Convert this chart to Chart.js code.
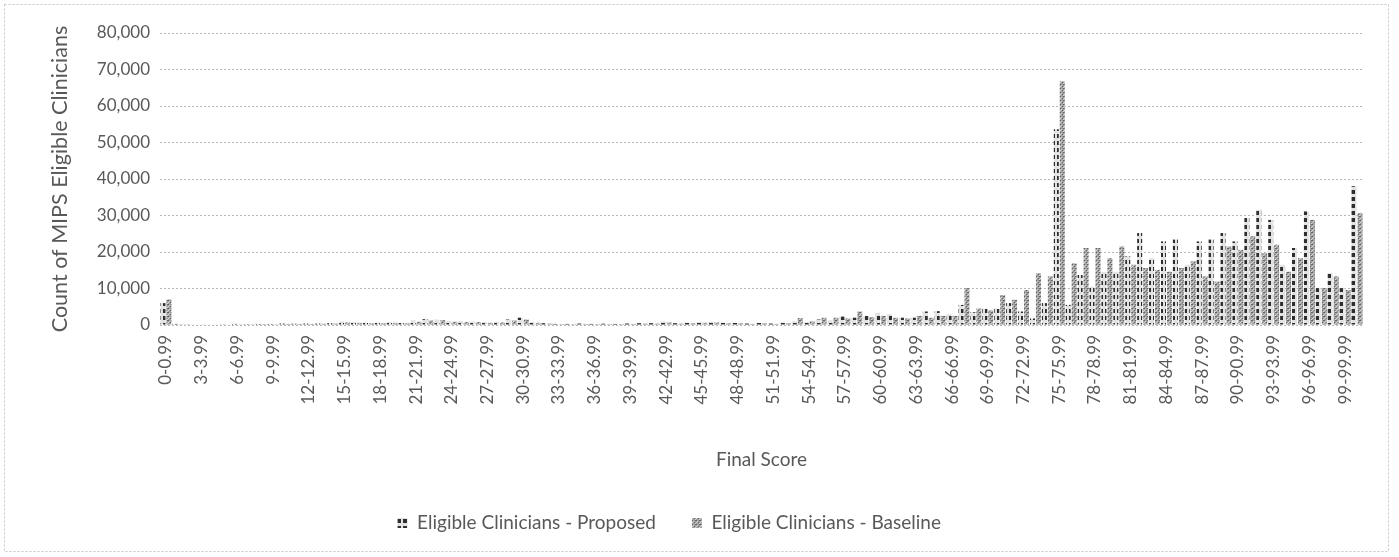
<!DOCTYPE html>
<html>
<head>
<meta charset="utf-8">
<script src="https://cdn.jsdelivr.net/npm/chart.js@4/dist/chart.umd.min.js"></script>
<style>
  html, body { margin: 0; padding: 0; background: #fff; }
</style>
</head>
<body>
<canvas id="scores" width="1399" height="557"></canvas>
<script>
// final score bins (101 of them, only every third gets a tick label)
const scoreBins = [
  "0-0.99","1-1.99","2-2.99","3-3.99","4-4.99","5-5.99","6-6.99","7-7.99","8-8.99","9-9.99",
  "10-10.99","11-11.99","12-12.99","13-13.99","14-14.99","15-15.99","16-16.99","17-17.99","18-18.99","19-19.99",
  "20-20.99","21-21.99","22-22.99","23-23.99","24-24.99","25-25.99","26-26.99","27-27.99","28-28.99","29-29.99",
  "30-30.99","31-31.99","32-32.99","33-33.99","34-34.99","35-35.99","36-36.99","37-37.99","38-38.99","39-39.99",
  "40-40.99","41-41.99","42-42.99","43-43.99","44-44.99","45-45.99","46-46.99","47-47.99","48-48.99","49-49.99",
  "50-50.99","51-51.99","52-52.99","53-53.99","54-54.99","55-55.99","56-56.99","57-57.99","58-58.99","59-59.99",
  "60-60.99","61-61.99","62-62.99","63-63.99","64-64.99","65-65.99","66-66.99","67-67.99","68-68.99","69-69.99",
  "70-70.99","71-71.99","72-72.99","73-73.99","74-74.99","75-75.99","76-76.99","77-77.99","78-78.99","79-79.99",
  "80-80.99","81-81.99","82-82.99","83-83.99","84-84.99","85-85.99","86-86.99","87-87.99","88-88.99","89-89.99",
  "90-90.99","91-91.99","92-92.99","93-93.99","94-94.99","95-95.99","96-96.99","97-97.99","98-98.99","99-99.99",
  "100"
];

const proposed = [
  6000, 300, 200, 150, 150, 200, 300, 250, 300, 300,
  400, 350, 400, 400, 500, 1000, 800, 700, 700, 800,
  600, 1300, 1600, 1400, 1100, 1100, 1000, 800, 900, 1500,
  2000, 800, 500, 300, 300, 400, 300, 350, 300, 400,
  500, 500, 1000, 500, 700, 800, 900, 700, 600, 400,
  600, 400, 700, 1000, 800, 1500, 1300, 2300, 2000, 2500,
  3300, 3000, 2000, 2000, 3700, 3800, 3000, 5500, 3500, 4500,
  4500, 6000, 3700, 1800, 6000, 53600, 5500, 13700, 10500, 14500,
  14600, 18800, 25200, 18300, 22900, 23400, 16500, 22900, 23400, 25200,
  22900, 29300, 31600, 28800, 16500, 21100, 31100, 10100, 14200, 10100,
  38000
];

const baseline = [
  7000, 200, 150, 100, 150, 150, 200, 200, 250, 200,
  300, 300, 300, 350, 400, 700, 600, 500, 500, 600,
  500, 900, 1200, 1300, 900, 800, 800, 600, 700, 1200,
  1500, 600, 400, 250, 250, 300, 250, 250, 250, 300,
  400, 400, 700, 400, 500, 600, 700, 500, 500, 300,
  500, 300, 500, 1900, 1000, 2000, 2000, 1800, 3700, 2200,
  2500, 2000, 1800, 2500, 2000, 2500, 2500, 10100, 4500, 4000,
  8200, 6900, 9600, 14200, 13300, 66800, 16900, 21100, 21100, 18300,
  21500, 16500, 15600, 15100, 14600, 15600, 17500, 13300, 11900, 21500,
  20600, 24300, 19700, 22000, 14600, 18300, 28800, 10100, 13300, 9600,
  30700
];

const textGrey = "#595959";
const fontFamily = "Lato, 'Open Sans', sans-serif";

// fill patterns like the black & white office print
function makePattern(w, h, paint) {
  const tile = document.createElement("canvas");
  tile.width = w;
  tile.height = h;
  const t = tile.getContext("2d");
  paint(t);
  return t.createPattern(tile, "repeat");
}

const proposedFill = makePattern(6, 7, t => {
  t.fillStyle = "#e2e2e2";
  t.fillRect(0, 0, 6, 7);
  t.fillStyle = "#2e2e2e";
  t.fillRect(1, 1, 4, 4);
});

const baselineFill = makePattern(4, 4, t => {
  t.fillStyle = "#a0a0a0";
  t.fillRect(0, 0, 4, 4);
  t.fillStyle = "#666";
  t.fillRect(0, 0, 1, 1);
  t.fillRect(2, 2, 1, 1);
  t.fillRect(3, 0, 1, 1);
  t.fillStyle = "#d4d4d4";
  t.fillRect(1, 1, 1, 1);
  t.fillRect(3, 3, 1, 1);
  t.fillRect(0, 2, 1, 1);
});

// dotted frame around the whole chart
const frame = {
  id: "frame",
  afterDraw(chart) {
    const ctx = chart.ctx;
    ctx.save();
    ctx.strokeStyle = "#c4c4c4";
    ctx.lineWidth = 1;
    ctx.setLineDash([2, 2]);
    ctx.strokeRect(4.5, 4.5, 1384, 547);
    ctx.restore();
  }
};

new Chart(document.getElementById("scores"), {
  type: "bar",
  data: {
    labels: scoreBins,
    datasets: [
      {
        label: "Eligible Clinicians - Proposed",
        data: proposed,
        backgroundColor: proposedFill,
        borderWidth: 0
      },
      {
        label: "Eligible Clinicians - Baseline",
        data: baseline,
        backgroundColor: baselineFill,
        borderWidth: 0
      }
    ]
  },
  options: {
    responsive: false,
    animation: false,
    devicePixelRatio: 1,
    layout: { padding: { top: 33, right: 36, bottom: 14.5, left: 4 } },
    datasets: {
      bar: { categoryPercentage: 1.0, barPercentage: 0.84 }
    },
    plugins: {
      tooltip: { enabled: false },
      legend: {
        position: "bottom",
        labels: {
          color: textGrey,
          font: { family: fontFamily, size: 19 },
          boxWidth: 10,
          boxHeight: 10,
          padding: 36,
          // legend row sits a bit left of centre in the original
          generateLabels(chart) {
            const items = Chart.defaults.plugins.legend.labels.generateLabels(chart);
            items[items.length - 1].text += "\u2003\u2003";
            return items;
          }
        }
      }
    },
    scales: {
      x: {
        grid: { display: false, drawTicks: false },
        border: { display: false },
        ticks: {
          autoSkip: false,
          minRotation: 90,
          maxRotation: 90,
          padding: 10,
          color: textGrey,
          font: { family: fontFamily, size: 17 },
          callback: function (value, index) {
            return index % 3 === 0 ? this.getLabelForValue(value) : "";
          }
        },
        title: {
          display: true,
          text: "Final Score",
          color: textGrey,
          font: { family: fontFamily, size: 19 },
          padding: { top: 4, bottom: 6 }
        },
        afterFit(scale) { scale.height = 152.5; }
      },
      y: {
        min: 0,
        max: 80000,
        grid: {
          color: "#b8b8b8",
          drawTicks: false
        },
        // in v4 the dash here is what dots the grid lines
        border: { display: false, dash: [2, 2] },
        ticks: {
          stepSize: 10000,
          padding: 10,
          color: textGrey,
          font: { family: fontFamily, size: 17 },
          callback: v => v.toLocaleString("en-US")
        },
        title: {
          display: true,
          text: "Count of MIPS Eligible Clinicians",
          color: textGrey,
          font: { family: fontFamily, size: 21.5 },
          padding: { top: 43, bottom: 4 }
        },
        afterFit(scale) { scale.width = 156; }
      }
    }
  },
  plugins: [frame]
});
</script>
</body>
</html>
